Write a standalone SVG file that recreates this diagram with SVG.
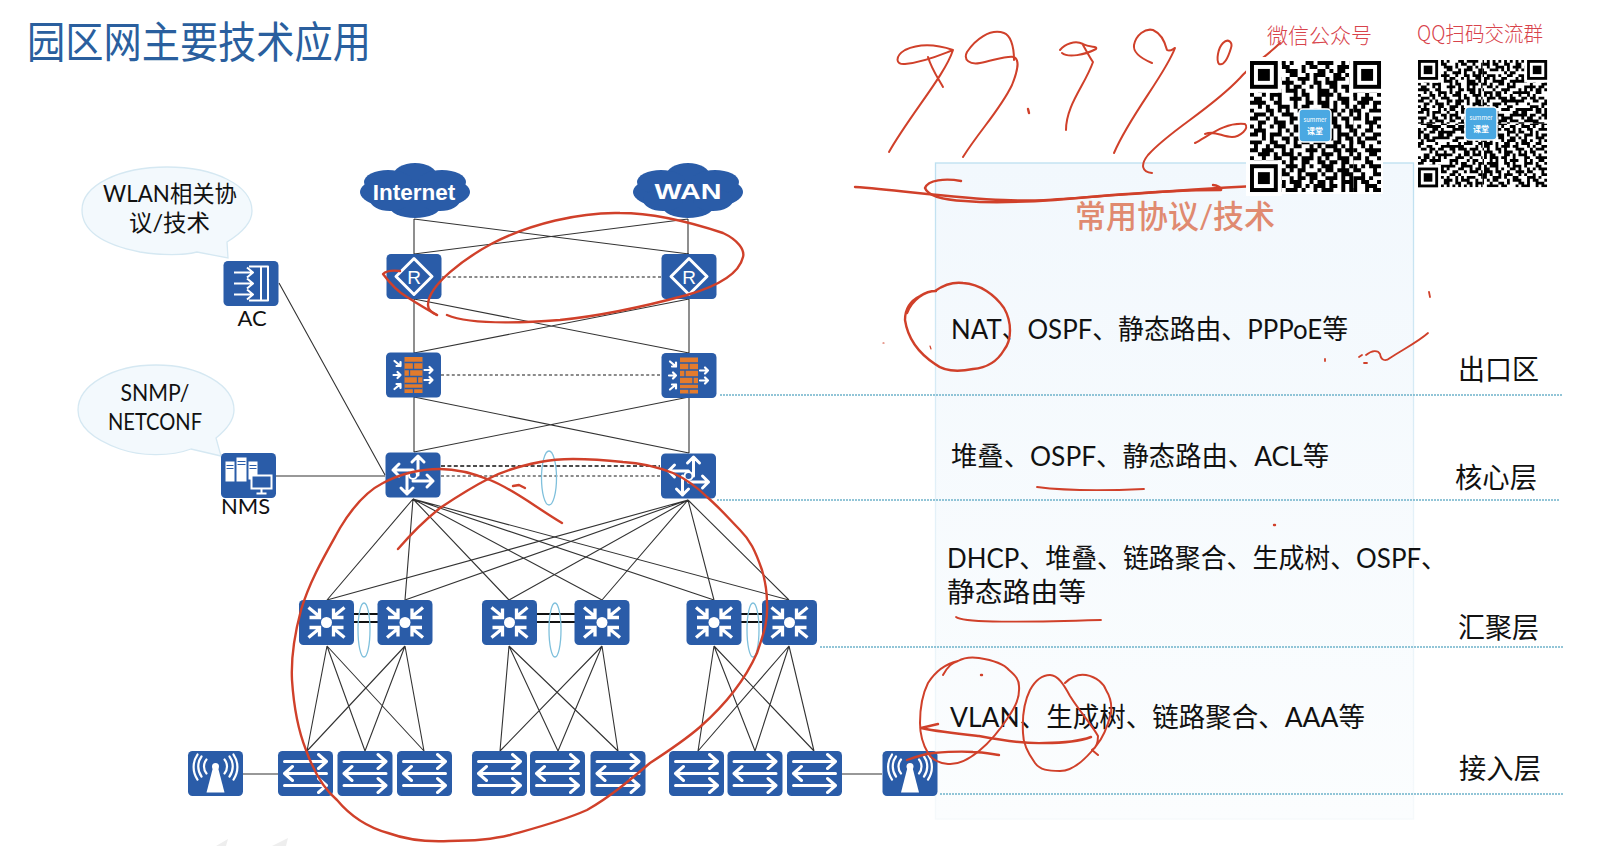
<svg xmlns="http://www.w3.org/2000/svg" xmlns:xlink="http://www.w3.org/1999/xlink" width="1598" height="846" viewBox="0 0 1598 846">
<style>
text{font-family:Lato,"Noto Sans CJK SC",sans-serif;fill:#111}
.t{font-size:27px}
.s{font-size:23px}
.tier{font-size:28px}
.qt{font-family:"Noto Sans CJK SC",sans-serif;font-size:21px;fill:#d8434b;font-weight:300}
.c{text-anchor:middle}
.box{fill:#2a5ca8}
.w{fill:none;stroke:#fff;stroke-width:3;stroke-linecap:round;stroke-linejoin:round}
.l{stroke:#333;stroke-width:1.1;fill:none}
.dg{stroke:#666;stroke-width:1.5;stroke-dasharray:3 2.4;fill:none}
.dk{stroke:#111;stroke-width:1.5;stroke-dasharray:4 2.4;fill:none}
.db{stroke:#111;stroke-width:1.8;fill:none}
.tl{stroke:#6fb3ca;stroke-width:1.3;stroke-dasharray:2 1;fill:none}
.lag{fill:none;stroke:#7fc0dc;stroke-width:1.3}
.ink{fill:none;stroke:#d0402a;stroke-width:2.400;stroke-linecap:round;stroke-linejoin:round}
.bub{fill:#f3f9fd;stroke:#d5e8f2;stroke-width:1.3}
.cl{fill:#2a5ca8}
.qr{fill:none;stroke:#000;stroke-width:1}
.logo{fill:#4aa8e2;stroke:#fff;stroke-width:1.5}
.lt{fill:#fff;text-anchor:middle;font-family:"Noto Sans CJK SC",sans-serif}
</style>
<defs>
<linearGradient id="pg" x1="0" y1="0" x2="0" y2="1"><stop offset="0" stop-color="#f2f8fd"/><stop offset="1" stop-color="#fbfdfe"/></linearGradient>
<linearGradient id="ps" x1="0" y1="0" x2="0" y2="1"><stop offset="0" stop-color="#bcdff0"/><stop offset="0.5" stop-color="#e2f0f8"/><stop offset="1" stop-color="#f5f9fb"/></linearGradient>
<g id="cloud">
<ellipse cx="0" cy="2" rx="55" ry="19"/><ellipse cx="0" cy="-14" rx="22" ry="13"/><ellipse cx="-27" cy="-8" rx="24" ry="12"/><ellipse cx="27" cy="-8" rx="24" ry="12"/><ellipse cx="0" cy="16" rx="26" ry="12"/><ellipse cx="-25" cy="10" rx="20" ry="11"/><ellipse cx="25" cy="10" rx="20" ry="11"/>
</g>
<rect id="b" class="box" x="-27.5" y="-22.5" width="55" height="45" rx="4.5"/>
<g id="i-router"><use href="#b"/><path class="w" d="M0 -18L18 0L0 18L-18 0Z"/></g>
<g id="i-fw"><use href="#b"/>
<rect x="-9" y="-18" width="18" height="36" fill="#e37b2d"/>
<path d="M-9 -12.5H9M-9 -5.500H9M-9 1.500H9M-9 8.500H9M-9 13.500H9M0 -12.500V-5.500M-4 -5.500V1.500M4 1.500V8.500M0 13.500V18" stroke="#2a5ca8" stroke-width="1.3" fill="none"/>
<path class="w" style="stroke-width:2.200" d="M-19 -14L-13 -9M-13 -13V-9H-17M-20 0H-13M-16 -3L-13 0L-16 3M-19 14L-13 9M-13 13V9H-17M11 -5H19M16 -8L19 -5L16 -2M11 5H19M16 2L19 5L16 8"/></g>
<g id="i-core"><use href="#b"/>
<path class="w" d="M5 0V-19M-1 -13L5 -19L11 -13M-6 0V19M-12 13L-6 19L0 13M0 -5H-20M-14 -11L-20 -5L-14 1M0 6H20M14 0L20 6L14 12"/>
<circle cx="0" cy="0" r="4" fill="#2a5ca8" stroke="#fff" stroke-width="2"/></g>
<g id="i-agg"><use href="#b"/>
<circle cx="0" cy="0" r="5.500" fill="#fff"/>
<path class="w" style="stroke-width:3.300;stroke-linecap:butt;stroke-linejoin:miter" d="M-18 -15L-7 -6M-7 -14V-5H-17M18 -15L7 -6M7 -14V-5H17M-18 15L-7 6M-7 14V5H-17M18 15L7 6M7 14V5H17"/></g>
<g id="i-sw"><use href="#b"/>
<path class="w" d="M-21 -12H20M13 -19L21 -12L13 -5M21 0H-20M-13 -7L-21 0L-13 7M-21 12H20M13 5L21 12L13 19"/></g>
<g id="i-ap"><use href="#b"/>
<circle cx="0" cy="-7" r="3.500" fill="#fff"/>
<path d="M-2.500 -6L-9 19H9L2.500 -6Z" fill="#fff"/>
<path class="w" style="stroke-width:2.200" d="M-9 -14A11 11 0 0 0 -9 0M-14 -17A17 17 0 0 0 -14 3M-18 -19A22 22 0 0 0 -18 6M9 -14A11 11 0 0 1 9 0M14 -17A17 17 0 0 1 14 3M18 -19A22 22 0 0 1 18 6"/></g>
<g id="i-ac"><use href="#b"/>
<path class="w" style="stroke-width:2;stroke-linecap:butt" d="M-2 -17H17V17H-2M10 -17V17M-17 -11H2M-4 -16L2 -11L-4 -6M-17 0H2M-4 -5L2 0L-4 5M-17 11H2M-4 6L2 11L-4 16"/></g>
<g id="i-nms"><use href="#b"/>
<rect x="-23" y="-14" width="9" height="20" fill="#fff"/><rect x="-12" y="-18" width="10" height="24" fill="#fff"/><rect x="0" y="-14" width="9" height="18" fill="#fff"/>
<path d="M-22 -10H-15M-22 -7H-15M-11 -14H-3M-11 -11H-3M1 -10H8M1 -7H8" stroke="#2a5ca8" stroke-width="1.2"/>
<rect x="3" y="0" width="20" height="13" fill="#2a5ca8" stroke="#fff" stroke-width="2"/>
<path d="M13 13V17M8 18H18" stroke="#fff" stroke-width="2"/></g>
<path id="qrd" class="qr" d="M0 .5h2m1 0h1m2 0h3m1 0h1m3 0h2m1 0h4m2 0h1m1 0h2m1 0h3
M1 1.5h3m2 0h1m1 0h2m3 0h1m1 0h2m2 0h1m2 0h3m1 0h2m1 0h1
M0 2.5h1m2 0h2m1 0h1m2 0h3m1 0h1m3 0h2m1 0h1m1 0h2m2 0h3
M2 3.5h1m1 0h3m3 0h2m2 0h1m1 0h3m2 0h2m1 0h1m3 0h2
M0 4.5h2m2 0h1m2 0h1m1 0h1m2 0h3m1 0h1m2 0h1m1 0h3m1 0h1m1 0h1
M1 5.5h1m3 0h2m1 0h3m2 0h1m2 0h2m1 0h3m3 0h1m1 0h2
M0 6.5h3m1 0h1m1 0h1m2 0h1m1 0h2m2 0h1m1 0h1m2 0h2m1 0h2m2 0h1
M2 7.5h2m3 0h1m1 0h3m1 0h1m3 0h3m1 0h1m2 0h1m1 0h3
M0 8.5h1m2 0h1m1 0h3m3 0h1m1 0h2m2 0h4m1 0h1m3 0h1m1 0h2
M1 9.5h2m2 0h1m1 0h1m2 0h3m1 0h1m2 0h1m1 0h1m2 0h3m2 0h2
M0 10.5h4m2 0h2m3 0h1m2 0h2m1 0h3m1 0h1m1 0h2m2 0h2
M2 11.5h1m1 0h1m2 0h3m1 0h1m1 0h2m3 0h2m1 0h1m2 0h1m1 0h3
M0 12.5h1m3 0h2m1 0h1m1 0h1m2 0h3m1 0h1m2 0h3m1 0h1m1 0h2
M1 13.5h3m1 0h1m2 0h3m3 0h1m1 0h2m2 0h1m1 0h1m2 0h3
M0 14.5h2m2 0h1m1 0h1m3 0h2m1 0h3m1 0h1m2 0h2m1 0h2m1 0h1
M2 15.5h2m2 0h3m1 0h1m2 0h2m2 0h1m1 0h3m2 0h1m1 0h2
M0 16.5h1m1 0h1m2 0h1m1 0h2m2 0h3m1 0h1m3 0h1m1 0h2m1 0h3
M1 17.5h3m3 0h1m1 0h1m1 0h2m2 0h2m1 0h3m1 0h1m2 0h2
M0 18.5h2m1 0h1m1 0h3m2 0h1m2 0h1m1 0h3m2 0h1m1 0h3m1 0h1
M3 19.5h1m1 0h1m2 0h2m1 0h3m3 0h1m1 0h2m1 0h1m1 0h3
M0 20.5h3m2 0h2m2 0h1m1 0h1m1 0h2m1 0h3m2 0h2m2 0h2
M1 21.5h1m2 0h1m1 0h3m2 0h2m2 0h1m1 0h1m1 0h3m1 0h1m1 0h1
M0 22.5h2m1 0h3m2 0h1m1 0h1m3 0h3m1 0h1m2 0h2m1 0h3
M2 23.5h3m1 0h1m1 0h3m1 0h1m2 0h1m2 0h3m1 0h1m2 0h1m1 0h1
M0 24.5h1m2 0h1m2 0h2m2 0h2m1 0h3m1 0h1m1 0h1m2 0h3m1 0h1
M1 25.5h2m1 0h3m1 0h1m1 0h1m2 0h2m2 0h2m1 0h2m1 0h2m1 0h2
M0 26.5h3m2 0h1m3 0h3m1 0h1m1 0h1m2 0h3m2 0h1m1 0h2
M2 27.5h1m1 0h2m1 0h2m1 0h1m1 0h2m3 0h1m1 0h2m1 0h3m1 0h1
M0 28.5h1m1 0h2m3 0h3m2 0h1m1 0h3m1 0h1m2 0h1m1 0h3
M1 29.5h3m1 0h1m1 0h1m2 0h1m1 0h2m1 0h2m2 0h3m1 0h1m1 0h1
M0 30.5h2m2 0h3m1 0h1m1 0h3m2 0h1m1 0h2m1 0h1m2 0h3
M2 31.5h1m2 0h1m1 0h2m2 0h2m1 0h1m1 0h3m1 0h2m1 0h1m1 0h1
M0 32.5h3m1 0h1m2 0h1m1 0h3m1 0h1m2 0h1m1 0h3m2 0h1m1 0h2"/>
<g id="fnd"><rect x="-1" y="-1" width="9" height="9" fill="#fff"/><rect x="0" y="0" width="7" height="7" fill="#000"/><rect x="1" y="1" width="5" height="5" fill="#fff"/><rect x="2" y="2" width="3" height="3" fill="#000"/></g>
<clipPath id="qc"><rect x="0" y="0" width="22.5" height="22.5"/></clipPath>
<clipPath id="q1c"><rect x="0" y="0" width="26" height="33"/></clipPath>
<clipPath id="q2c"><rect x="0" y="0" width="7" height="33"/></clipPath>
<g id="qq"><use href="#qrd" clip-path="url(#qc)"/></g>
</defs>
<rect width="1598" height="846" fill="#fff"/>
<text x="27" y="58" font-size="43" textLength="344" lengthAdjust="spacingAndGlyphs" style="fill:#2a5f9e">园区网主要技术应用</text>

<g id="panel">
<rect x="935.500" y="163" width="478" height="656" fill="url(#pg)" stroke="url(#ps)" stroke-width="1.3"/>
<text x="1075" y="228" font-size="32" font-weight="500" textLength="200" lengthAdjust="spacingAndGlyphs" style="fill:#e08a70">常用协议/技术</text>
<text class="t" x="951" y="339" textLength="397" lengthAdjust="spacingAndGlyphs">NAT、OSPF、静态路由、PPPoE等</text>
<text class="t" x="951" y="466" textLength="378" lengthAdjust="spacingAndGlyphs">堆叠、OSPF、静态路由、ACL等</text>
<text class="t" x="947" y="568" textLength="500" lengthAdjust="spacingAndGlyphs">DHCP、堆叠、链路聚合、生成树、OSPF、</text>
<text class="t" x="947" y="602" textLength="139" lengthAdjust="spacingAndGlyphs">静态路由等</text>
<text class="t" x="950" y="727" textLength="415" lengthAdjust="spacingAndGlyphs">VLAN、生成树、链路聚合、AAA等</text>
</g>
<g id="tiers">
<path class="tl" d="M720 395H1563M717 500H1560M820 647H1563M940 794H1564"/>
<text class="tier" x="1458" y="380" textLength="81" lengthAdjust="spacingAndGlyphs">出口区</text>
<text class="tier" x="1455" y="488" textLength="82" lengthAdjust="spacingAndGlyphs">核心层</text>
<text class="tier" x="1458" y="638" textLength="81" lengthAdjust="spacingAndGlyphs">汇聚层</text>
<text class="tier" x="1459" y="779" textLength="82" lengthAdjust="spacingAndGlyphs">接入层</text>
</g>

<g id="connectors">
<path class="l" d="M414 219V254M688 219V254M414 219L689 254M688 219L414 254"/>
<path class="l" d="M414 299V353M689 299V353M414 299L689 353M689 299L414 353"/>
<path class="l" d="M414 397V452M689 397V453M414 397L689 453M689 397L414 452"/>
<path class="dg" d="M442 277H661"/>
<path class="dg" d="M441 375H661"/>
<path class="dk" d="M441 466H660"/>
<path class="dg" d="M441 476H660"/>
<path class="l" d="M279 283L385 475M276 476H385"/>
<path class="l" d="M413 499L327 600M413 499L405 600M413 499L509 600M413 499L602 600M413 499L714 600M413 499L789 600"/>
<path class="l" d="M688 500L327 600M688 500L405 600M688 500L509 600M688 500L602 600M688 500L714 600M688 500L789 600"/>
<path class="db" d="M354 614H378M354 622H378M537 614H575M537 622H575M741 614H763M741 622H763"/>
<path class="l" d="M327 646L307 751M327 646L365 751M327 646L424 751M405 646L307 751M405 646L365 751M405 646L424 751"/>
<path class="l" d="M509 646L500 751M509 646L558 751M509 646L618 751M602 646L500 751M602 646L558 751M602 646L618 751"/>
<path class="l" d="M714 646L698 751M714 646L755 751M714 646L814 751M789 646L698 751M789 646L755 751M789 646L814 751"/>
<path class="l" d="M243 774H278M842 774H882"/>
<ellipse class="lag" cx="549" cy="478" rx="7.500" ry="27"/>
<ellipse class="lag" cx="364" cy="630" rx="6" ry="27"/>
<ellipse class="lag" cx="555" cy="630" rx="6" ry="27"/>
<ellipse class="lag" cx="753" cy="630" rx="6" ry="27"/>
</g>

<g id="bubble-wlan">
<path class="bub" d="M197 252C180 256 160 255 140 252C105 245 82 232 82 210C82 185 120 167 167 167C214 167 252 185 252 211C252 224 240 234 227 242L228 258Z"/>
<text class="s" x="103" y="202" textLength="134" lengthAdjust="spacingAndGlyphs">WLAN相关协</text>
<text class="s" x="129" y="231" textLength="81" lengthAdjust="spacingAndGlyphs">议/技术</text>
</g>
<g id="bubble-snmp">
<path class="bub" d="M191 449C170 457 140 456 120 449C95 440 78 428 78 410C78 385 113 365 156 365C199 365 234 385 234 410C234 420 226 430 216 438L221 456Z"/>
<text class="s" x="120.500" y="401" textLength="69" lengthAdjust="spacingAndGlyphs">SNMP/</text>
<text class="s" x="108" y="430" textLength="94" lengthAdjust="spacingAndGlyphs">NETCONF</text>
</g>

<g id="internet"><use href="#cloud" class="cl" x="415" y="190"/><text class="c" x="414" y="200" font-size="22.500" font-weight="700" style="font-family:'Liberation Sans',sans-serif;fill:#fff">Internet</text></g>
<g id="wan"><use href="#cloud" class="cl" x="688" y="190"/><text x="654.500" y="199" font-size="22.500" font-weight="700" textLength="67" lengthAdjust="spacingAndGlyphs" style="font-family:'Liberation Sans',sans-serif;fill:#fff">WAN</text></g>
<g id="router-1"><use href="#i-router" x="414" y="276.500"/><text class="c" x="414" y="283.500" font-size="19" style="font-family:'Liberation Sans',sans-serif;fill:#fff">R</text></g>
<g id="router-2"><use href="#i-router" x="689" y="276.500"/><text class="c" x="689" y="283.500" font-size="19" style="font-family:'Liberation Sans',sans-serif;fill:#fff">R</text></g>
<g id="fw-1"><use href="#i-fw" x="413.500" y="375"/></g>
<g id="fw-2"><use href="#i-fw" x="689" y="375.500"/></g>
<g id="core-1"><use href="#i-core" x="413" y="475"/></g>
<g id="core-2"><use href="#i-core" x="688.500" y="476"/></g>
<g id="ac"><use href="#i-ac" x="251" y="283.500"/><text class="s c" x="252" y="326" style="font-size:22px">AC</text></g>
<g id="nms"><use href="#i-nms" x="248.500" y="475.500"/><text class="s" x="221" y="514" style="font-size:22px">NMS</text></g>
<g id="agg-1"><use href="#i-agg" x="326.500" y="622.500"/></g>
<g id="agg-2"><use href="#i-agg" x="405" y="622.500"/></g>
<g id="agg-3"><use href="#i-agg" x="509.500" y="622.500"/></g>
<g id="agg-4"><use href="#i-agg" x="602" y="622.500"/></g>
<g id="agg-5"><use href="#i-agg" x="714" y="622.500"/></g>
<g id="agg-6"><use href="#i-agg" x="789.500" y="622.500"/></g>
<g id="ap-1"><use href="#i-ap" x="215.500" y="773.500"/></g>
<g id="sw-1"><use href="#i-sw" x="305.500" y="773.500"/></g>
<g id="sw-2"><use href="#i-sw" x="365" y="773.500"/></g>
<g id="sw-3"><use href="#i-sw" x="424.500" y="773.500"/></g>
<g id="sw-4"><use href="#i-sw" x="499.500" y="773.500"/></g>
<g id="sw-5"><use href="#i-sw" x="557.500" y="773.500"/></g>
<g id="sw-6"><use href="#i-sw" x="618" y="773.500"/></g>
<g id="sw-7"><use href="#i-sw" x="696.500" y="773.500"/></g>
<g id="sw-8"><use href="#i-sw" x="755" y="773.500"/></g>
<g id="sw-9"><use href="#i-sw" x="814.500" y="773.500"/></g>
<g id="ap-2"><use href="#i-ap" x="910" y="773.500"/></g>

<g id="ink">
<path class="ink" d="M400 271C392 270 386 271 383 274C392 286 400 293 407 297C418 304 428 310 437 315"/>
<path class="ink" d="M437 315C430 312 428 309 428 305C428 285 465 258 493 243C530 224 580 212 620 213C655 213 690 222 723 233C738 240 745 250 743 257C740 270 725 284 687 295C650 305 600 316 560 320C520 323 470 325 447 315"/>
<path class="ink" d="M562 523C535 507 515 490 490 480C470 472 455 469 440 469C420 469 400 474 383 483C365 492 352 508 340 528C325 555 310 580 301 610C293 640 291 660 292 680C294 710 298 730 306 750C315 775 325 790 337 800C352 818 370 828 388 833C410 841 430 842 449 841C470 841 490 840 510 835C535 828 560 822 587 810C610 797 630 780 650 763C670 750 685 740 700 727C725 705 745 680 757 653C765 630 768 620 767 603C767 590 765 580 762 570C755 550 750 540 740 530C730 520 720 508 707 497C698 488 688 480 673 473C655 466 640 463 623 462C605 460 590 459 573 459C560 459 550 460 540 462C520 466 505 470 490 478C470 488 455 498 440 508C425 520 410 535 398 549"/>
<path class="ink" d="M513 486L519 485L525 488"/>
<path class="ink" style="stroke-width:2" d="M953 50C935 44 918 44 905 50C895 56 895 65 905 64C925 62 940 55 953 50C945 75 910 115 889 152M928 57C932 70 938 78 943 87"/>
<path class="ink" style="stroke-width:2" d="M1014 60C1014 45 1010 35 1004 33C990 28 975 40 967 52C963 60 970 65 980 63C995 60 1008 55 1014 57C1020 60 1018 70 1012 85C1000 110 980 130 963 157"/>
<path class="ink" d="M1028 109L1029 113"/>
<path class="ink" style="stroke-width:2" d="M1060 50C1065 44 1075 40 1083 44C1090 48 1098 46 1096 49C1085 55 1068 58 1062 53M1083 45C1087 52 1090 58 1093 62C1085 85 1066 105 1066 130"/>
<path class="ink" style="stroke-width:2" d="M1152 63C1140 58 1133 52 1134 45C1136 35 1145 28 1153 30C1162 34 1165 42 1167 50C1170 52 1173 49 1175 48C1165 75 1130 115 1114 153"/>
<path class="ink" style="stroke-width:2" d="M1223 43C1228 38 1233 42 1231 48C1228 58 1224 66 1219 64C1216 60 1218 48 1223 43"/>
<path class="ink" style="stroke-width:2" d="M1280 43C1265 58 1250 66 1240 78C1210 110 1170 130 1148 155C1140 165 1142 172 1152 173"/>
<path class="ink" style="stroke-width:2" d="M1195 143C1210 135 1225 122 1245 124C1250 128 1240 137 1232 137C1222 137 1215 130 1205 134"/>
<path class="ink" d="M855 187C900 190 950 198 1004 200C1050 203 1130 192 1255 186"/>
<path class="ink" d="M961 181C945 178 928 180 925 188C928 196 945 200 965 201C1000 204 1060 200 1100 196C1150 192 1190 190 1221 190C1222 188 1217 185 1213 185"/>
<path class="ink" d="M907 313C912 300 925 291 935 291C945 284 955 282 963 283C980 284 995 295 1004 308C1012 322 1012 340 1004 350C997 362 985 368 973 369C958 372 945 372 935 364C920 354 908 340 905 320C905 308 912 300 920 296C926 292 932 291 936 291"/>
<path class="ink" style="stroke-width:1.200" d="M883 343h1M930 346l1 3"/>
<path class="ink" style="stroke-width:1.800" d="M1429 292l1 5M1325 359v2M1359 357l3 -2M1364 363l3 0M1366 355C1372 350 1378 350 1380 354C1381 360 1385 362 1390 358C1402 350 1418 342 1428 333"/>
<path class="ink" style="stroke-width:1.800" d="M1037 487C1060 490 1100 491 1144 489"/>
<path class="ink" d="M1274 525h1"/>
<path class="ink" style="stroke-width:1.800" d="M956 617C962 622 1000 623 1101 620"/>
<path class="ink" style="stroke-width:2" d="M943 675C948 666 952 663 958 661C965 657 972 657 979 658C992 660 1003 663 1009 670C1016 676 1019 680 1019 686C1020 698 1015 707 1009 716C1000 730 990 742 979 751C968 760 958 765 948 764C938 763 932 760 928 753C922 743 920 733 920 723C920 708 922 695 928 683C935 672 945 664 958 661"/>
<path class="ink" d="M981 675h1"/>
<path class="ink" d="M938 724L921 728C940 732 960 734 979 736C1000 740 1025 744 1045 743C1065 743 1080 741 1091 737"/>
<path class="ink" d="M907 760C915 757 925 754 933 753C945 752 960 751 973 752C982 752 992 754 999 755"/>
<path class="ink" style="stroke-width:2" d="M1065 683C1072 676 1080 674 1086 675C1097 677 1104 684 1106 690C1111 698 1112 705 1111 713C1108 725 1103 738 1096 746C1085 760 1072 771 1060 771C1048 771 1040 770 1035 763C1027 752 1023 742 1023 733C1022 715 1024 702 1030 690C1035 681 1042 675 1050 675C1058 675 1064 685 1070 696C1080 712 1092 725 1098 736C1098 742 1096 748 1092 750L1098 755"/>
</g>
<path d="M216 846L228 839L226 846ZM272 846L288 838L286 846Z" fill="#eee"/>

<g id="qr-wechat">
<text class="qt" x="1267" y="43" textLength="105" lengthAdjust="spacingAndGlyphs">微信公众号</text>
<rect x="1248" y="59" width="135" height="135" fill="#fff"/>
<g transform="translate(1250 61) scale(3.97)">
<use href="#qrd" clip-path="url(#q1c)"/>
<g transform="rotate(180 16.500 16.500)"><use href="#qrd" clip-path="url(#q2c)"/></g>
<use href="#fnd"/><use href="#fnd" x="26"/><use href="#fnd" y="26"/>
</g>
<rect class="logo" x="1299" y="109" width="32" height="33" rx="4"/>
<text class="lt" x="1315" y="122" font-size="6">summer</text>
<text class="lt" x="1315" y="134" font-size="8" font-weight="700">课堂</text>
</g>
<g id="qr-qq">
<text class="qt" x="1417" y="41" textLength="126" lengthAdjust="spacingAndGlyphs">QQ扫码交流群</text>
<rect x="1417" y="59" width="131" height="130" fill="#fff"/>
<g transform="translate(1418 60) scale(2.87 2.83)">
<use href="#qq"/>
<use href="#qq" transform="rotate(90 22.500 22.500)"/>
<use href="#qq" transform="rotate(180 22.500 22.500)"/>
<use href="#qq" transform="rotate(270 22.500 22.500)"/>
<use href="#fnd"/><use href="#fnd" x="38"/><use href="#fnd" y="38"/>
</g>
<rect class="logo" x="1465" y="107" width="32" height="33" rx="4"/>
<text class="lt" x="1481" y="120" font-size="6">summer</text>
<text class="lt" x="1481" y="132" font-size="8" font-weight="700">课堂</text>
</g>
</svg>
